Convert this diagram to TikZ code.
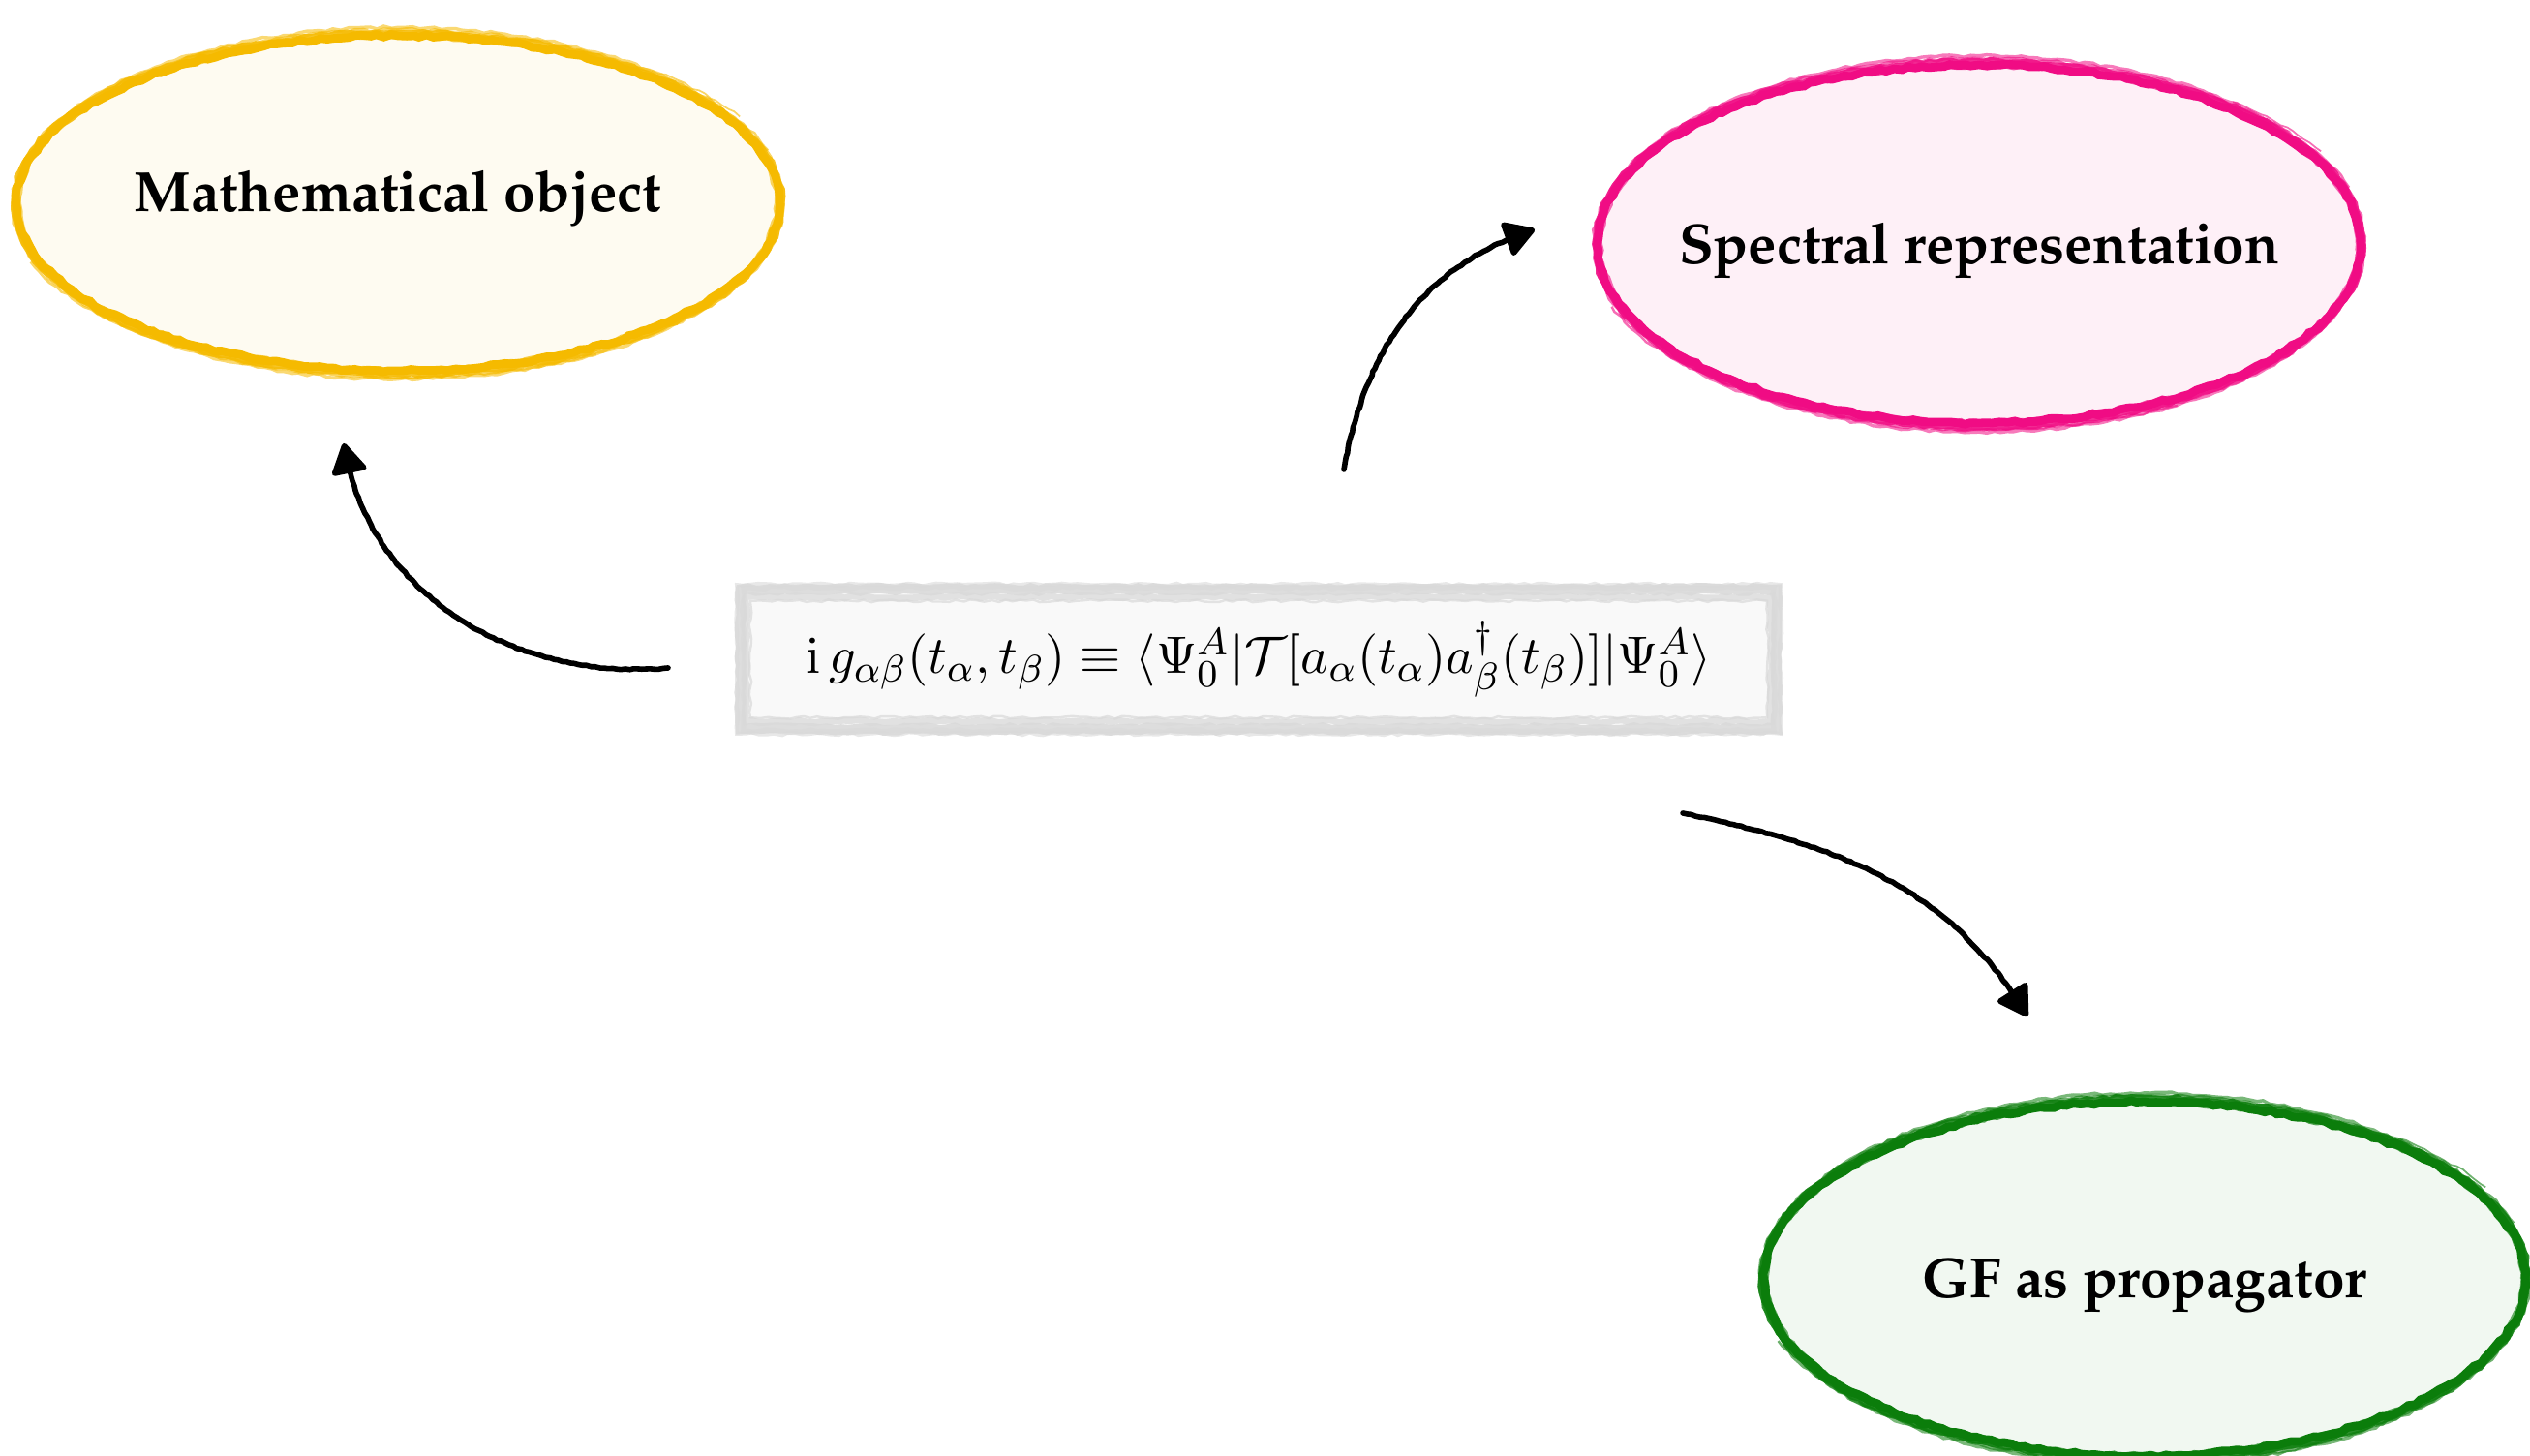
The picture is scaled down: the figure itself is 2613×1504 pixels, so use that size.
\documentclass[tikz,border=0pt]{standalone}
\usepackage[T1,TU]{fontenc}
\usetikzlibrary{shapes.geometric,arrows.meta,decorations.pathmorphing}

\definecolor{goldink}{HTML}{F5BA00}
\definecolor{goldfill}{HTML}{FEFBF1}
\definecolor{pinkink}{HTML}{F00C84}
\definecolor{pinkfill}{HTML}{FEF0F7}
\definecolor{greenink}{HTML}{0B7D0B}
\definecolor{greenfill}{HTML}{F1F8F1}
\definecolor{frameink}{HTML}{D9D9D9}
\definecolor{framefill}{HTML}{F9F9F9}

\newcommand\palbold{\fontencoding{T1}\fontfamily{ppl}\fontseries{b}\fontshape{n}\fontsize{12}{14}\selectfont}

% filled ellipse with several jittered brush passes and a few loose streaks
% #1 centre, #2 ink, #3 fill, #4 x radius (cm), #5 y radius (cm)
\newcommand\brushring[5]{%
  \fill[#3] (#1) ellipse [x radius=#4cm, y radius=#5cm];
  \foreach \sx/\sy/\dy/\w/\o in {1/1/0/1.8/1, 1.006/1.02/-0.025/1.3/0.85, 0.995/0.99/0.01/0.7/0.7,
      1.01/1.035/-0.045/0.7/0.6, 0.99/1.0/-0.02/0.5/0.6, 1.003/1.05/-0.06/0.7/0.55}{%
    \draw[inkline, draw=#2, line width=\w pt, opacity=\o, yshift=\dy cm]
      (#1) ellipse [x radius=#4cm*\sx, y radius=#5cm*\sy];}
  \foreach \a/\b/\s/\w in {18/62/1.02/0.5, 30/50/1.035/0.35, 200/250/1.025/0.5, 265/300/1.04/0.4, 110/150/1.015/0.35}{%
    \draw[inkline, draw=#2, line width=\w pt, opacity=0.6]
      ([shift={(\a:{#4cm*\s} and {#5cm*\s})}]#1) arc [start angle=\a, end angle=\b, x radius=#4cm*\s, y radius=#5cm*\s];}}

\tikzset{
  inkline/.style={decorate, decoration={random steps, segment length=1.5pt, amplitude=0.3pt}},
  topic/.style={inner sep=0pt, font=\palbold},
  formulabox/.style={rectangle, inner sep=0pt, minimum width=7.75cm, minimum height=1.094cm,
    fill=framefill, font=\fontsize{10.95}{13}\selectfont},
  flow/.style={line width=1.15pt, line cap=round, line join=round,
    decorate, decoration={random steps, segment length=0.9pt, amplitude=0.13pt,
      pre=lineto, pre length=1pt, post=lineto, post length=5pt},
    -{Triangle[length=7pt,width=8pt,round]}},
}

\begin{document}
\begin{tikzpicture}[x=0.0072cm, y=0.0072cm]
  \pgfmathsetseed{11}
  \useasboundingbox (0,0) rectangle (2613,1504);

  % centres of the three brushed ellipses
  \coordinate (moc) at (411,1294);
  \coordinate (src) at (2044,1252);
  \coordinate (gfc) at (2215,183);
  \brushring{moc}{goldink}{goldfill}{2.837}{1.246}
  \brushring{src}{pinkink}{pinkfill}{2.837}{1.332}
  \brushring{gfc}{greenink}{greenfill}{2.83}{1.318}

  % topic labels
  \node[topic] (mo) at (411,1299) {Mathematical object};
  \node[topic] (sr) at (2044,1245) {Spectral representation};
  \node[topic] (gf) at (2215,176) {GF as propagator};

  % central definition
  \node[formulabox] (fm) at (1300,823)
    {\scalebox{1.016}{$\mathrm{i}\,g_{\alpha\beta}(t_\alpha,t_\beta)\equiv\langle\Psi_0^A|\mathcal{T}[a_\alpha(t_\alpha)a^\dagger_\beta(t_\beta)]|\Psi_0^A\rangle$}};
  \foreach \ix/\iy/\w/\o in {0.03/0.035/2.2/0.85, 0.07/0.09/1.4/0.75, 0.0/0.0/0.8/0.6,
      0.1/0.12/0.5/0.7, 0.05/0.02/1.1/0.6}{%
    \draw[inkline, draw=frameink, line width=\w pt, opacity=\o]
      ([xshift=\ix cm, yshift=\iy cm]fm.south west) rectangle ([xshift=-\ix cm, yshift=-\iy cm]fm.north east);}

  % loose ends of the connectors
  \coordinate (a1s) at (690,814);
  \coordinate (a1e) at (355,1046);
  \coordinate (a2s) at (1388,1019);
  \coordinate (a2e) at (1585,1267);
  \coordinate (a3s) at (1738,664);
  \coordinate (a3e) at (2094,454);

  \draw[flow] (a1s) to[out=185, in=-81] (a1e);
  \draw[flow] (a2s) to[out=80, in=198] (a2e);
  \draw[flow] (a3s) to[out=-12, in=121] (a3e);
\end{tikzpicture}
\end{document}
